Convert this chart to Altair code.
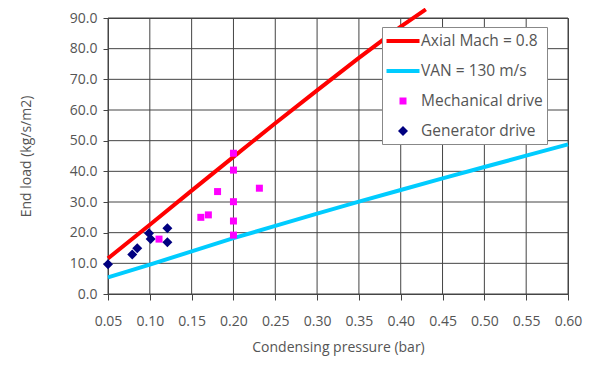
import altair as alt
import pandas as pd

# ---- data ----
red_name = "Axial Mach = 0.8"
cyan_name = "VAN = 130 m/s"
mech_name = "Mechanical drive"
gen_name = "Generator drive"

red_x = [0.05, 0.10, 0.15, 0.20, 0.25, 0.30, 0.35, 0.40, 0.43]
red_y = [11.6, 22.6, 33.7, 44.7, 55.7, 66.4, 77.0, 87.2, 92.8]

cyan_x = [0.05, 0.10, 0.15, 0.20, 0.25, 0.30, 0.35, 0.40, 0.45, 0.50, 0.55, 0.60]
cyan_y = [5.4, 9.6, 13.9, 18.2, 22.2, 26.2, 30.1, 33.9, 37.7, 41.4, 45.1, 48.8]

mech_x = [0.200, 0.200, 0.181, 0.231, 0.200, 0.161, 0.170, 0.200, 0.200, 0.111]
mech_y = [45.9, 40.4, 33.4, 34.5, 30.1, 25.0, 25.8, 23.8, 19.2, 17.9]

gen_x = [0.050, 0.079, 0.085, 0.099, 0.101, 0.121, 0.121]
gen_y = [9.7, 12.9, 14.9, 19.8, 17.9, 21.4, 16.9]

x_ticks = [0.05, 0.10, 0.15, 0.20, 0.25, 0.30, 0.35, 0.40, 0.45, 0.50, 0.55, 0.60]
y_ticks = [0, 10, 20, 30, 40, 50, 60, 70, 80, 90]

series_order = [red_name, cyan_name, mech_name, gen_name]
series_colors = ["#FF0000", "#00CCFF", "#FF00FF", "#000080"]

# symbol paths (unit box, scaled by marker size)
LINE_SYM = "M-1.65,-0.2L1.65,-0.2L1.65,0.2L-1.65,0.2Z"
SQUARE_SYM = "M-0.35,-0.35L0.35,-0.35L0.35,0.35L-0.35,0.35Z"
DIAMOND_SYM = "M0,-0.5L0.5,0L0,0.5L-0.5,0Z"
series_shapes = [LINE_SYM, LINE_SYM, SQUARE_SYM, DIAMOND_SYM]

lines_df = pd.DataFrame(
    {"x": red_x + cyan_x, "y": red_y + cyan_y,
     "series": [red_name] * len(red_x) + [cyan_name] * len(cyan_x)}
)
points_df = pd.DataFrame(
    {"x": mech_x + gen_x, "y": mech_y + gen_y,
     "series": [mech_name] * len(mech_x) + [gen_name] * len(gen_x)}
)
xgrid_df = pd.DataFrame({"x": x_ticks})
ygrid_df = pd.DataFrame({"y": y_ticks})

FONT = "Open Sans"
TXT = "#555555"
GRID = "#444444"

color_scale = alt.Scale(domain=series_order, range=series_colors)
shape_scale = alt.Scale(domain=series_order, range=series_shapes)

xscale = alt.Scale(domain=[0.05, 0.60], nice=False, zero=False)
yscale = alt.Scale(domain=[0, 90], nice=False)

xaxis = alt.Axis(values=x_ticks, format=".2f", title="Condensing pressure (bar)",
                 labelPadding=14, titlePadding=12, tickSize=6, labelFlush=False, grid=False)
yaxis = alt.Axis(values=y_ticks, format=".1f", title="End load (kg/s/m2)",
                 labelPadding=6, titlePadding=36, tickSize=5, labelFlush=False, grid=False)

xenc = alt.X("x:Q", scale=xscale, axis=xaxis)
yenc = alt.Y("y:Q", scale=yscale, axis=yaxis)

legend = alt.Legend(
    title=None,
    orient="none",
    legendX=274,
    legendY=9,
    fillColor="white",
    strokeColor="#888888",
    padding=4,
    rowPadding=11,
    symbolOffset=7,
    labelOffset=8,
    labelFont=FONT,
    labelFontSize=15.5,
    labelColor=TXT,
    symbolSize=400,
    symbolStrokeWidth=0,
    symbolOpacity=1,
)

xgrid = alt.Chart(xgrid_df).mark_rule(color=GRID, strokeWidth=1).encode(
    x=alt.X("x:Q", scale=xscale, axis=xaxis)
)
ygrid = alt.Chart(ygrid_df).mark_rule(color=GRID, strokeWidth=1).encode(
    y=alt.Y("y:Q", scale=yscale, axis=yaxis)
)

lines = alt.Chart(lines_df).mark_line(strokeWidth=4, clip=False).encode(
    x=xenc,
    y=yenc,
    stroke=alt.Stroke("series:N", scale=color_scale, legend=legend),
    detail="series:N",
)

points = alt.Chart(points_df).mark_point(filled=True, opacity=1, strokeWidth=0, size=400).encode(
    x=xenc,
    y=yenc,
    fill=alt.Fill("series:N", scale=color_scale, legend=legend),
    shape=alt.Shape("series:N", scale=shape_scale, legend=legend),
)

chart = (
    alt.layer(xgrid, ygrid, lines, points)
    .properties(
        width=460,
        height=276,
        autosize=alt.AutoSizeParams(type="none"),
        padding={"left": 100, "top": 10, "right": 15, "bottom": 66},
    )
    .configure_view(stroke=GRID, strokeWidth=1)
    .configure_axis(
        labelFont=FONT, titleFont=FONT, labelFontSize=14, titleFontSize=14,
        labelColor=TXT, titleColor=TXT, titleFontWeight="normal",
        domainColor=GRID, tickColor=GRID,
    )
)

chart.save("out.html", embed_options={"renderer": "svg", "actions": False})
